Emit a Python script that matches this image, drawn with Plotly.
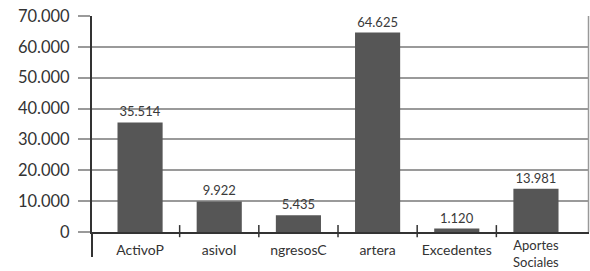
import plotly.graph_objects as go

categories = ["ActivoP", "asivoI", "ngresosC", "artera", "Excedentes", "Aportes Sociales"]
values = [35514, 9922, 5435, 64625, 1120, 13981]
y_ticks = [0, 10000, 20000, 30000, 40000, 50000, 60000, 70000]

FONT = "Lato, 'Open Sans', sans-serif"
x_idx = list(range(len(categories)))
multi = [(" " in c) for c in categories]
tick_text = ["" if m else c for c, m in zip(categories, multi)]

fig = go.Figure(go.Bar(
    x=x_idx, y=values, width=0.57,
    marker=dict(color="#565656", line=dict(width=0)),
    texttemplate="%{y:,}", textposition="outside",
    textfont=dict(family=FONT, size=13, color="#3a3a3a"),
    cliponaxis=False,
))

shapes = []
for b in range(len(categories) - 1):
    shapes.append(dict(type="line", xref="x", yref="paper", x0=b + 0.5, x1=b + 0.5,
                       y0=-0.024, y1=0.032, line=dict(color="#333333", width=1.5)))
shapes.append(dict(type="line", xref="paper", yref="paper", x0=0, x1=0, y0=0, y1=-0.116,
                   line=dict(color="#333333", width=2)))
shapes.append(dict(type="line", xref="paper", yref="paper", x0=0.999, x1=0.999, y0=0, y1=1,
                   line=dict(color="#999999", width=1.5)))

annotations = []
for i, c, m in zip(x_idx, categories, multi):
    if m:
        annotations.append(dict(x=i, xref="x", y=0, yref="paper", text=c.replace(" ", "<br>"),
                                showarrow=False, yanchor="bottom", yshift=-38.5, borderpad=0,
                                font=dict(family=FONT, size=13, color="#333333")))

fig.update_layout(
    width=590, height=271,
    margin=dict(l=92, r=1, t=16, b=39, autoexpand=False),
    plot_bgcolor="white", paper_bgcolor="white",
    separators=",.",
    showlegend=False,
    shapes=shapes,
    annotations=annotations,
    font=dict(family=FONT, color="#333333"),
    xaxis=dict(
        tickmode="array", tickvals=x_idx, ticktext=tick_text,
        range=[-0.607, 5.67], showgrid=False, ticks="",
        showline=True, linecolor="#333333", linewidth=2,
        tickfont=dict(family=FONT, size=14, color="#333333"),
        zeroline=False, automargin=False,
        ticklabelstandoff=4,
    ),
    yaxis=dict(
        range=[0, 70000], tickmode="array", tickvals=y_ticks,
        tickformat=",d",
        showgrid=True, gridcolor="#9a9a9a", gridwidth=1.5,
        ticks="outside", ticklen=12, tickcolor="#9a9a9a", tickwidth=1.5,
        showline=True, linecolor="#333333", linewidth=2,
        zeroline=False, automargin=False,
        tickfont=dict(family=FONT, size=16.5, color="#333333"),
        ticklabelstandoff=5,
    ),
)

fig.write_html("out.html", config={"displayModeBar": False},
               post_script="document.body.style.margin='0';document.body.style.padding='0';")
